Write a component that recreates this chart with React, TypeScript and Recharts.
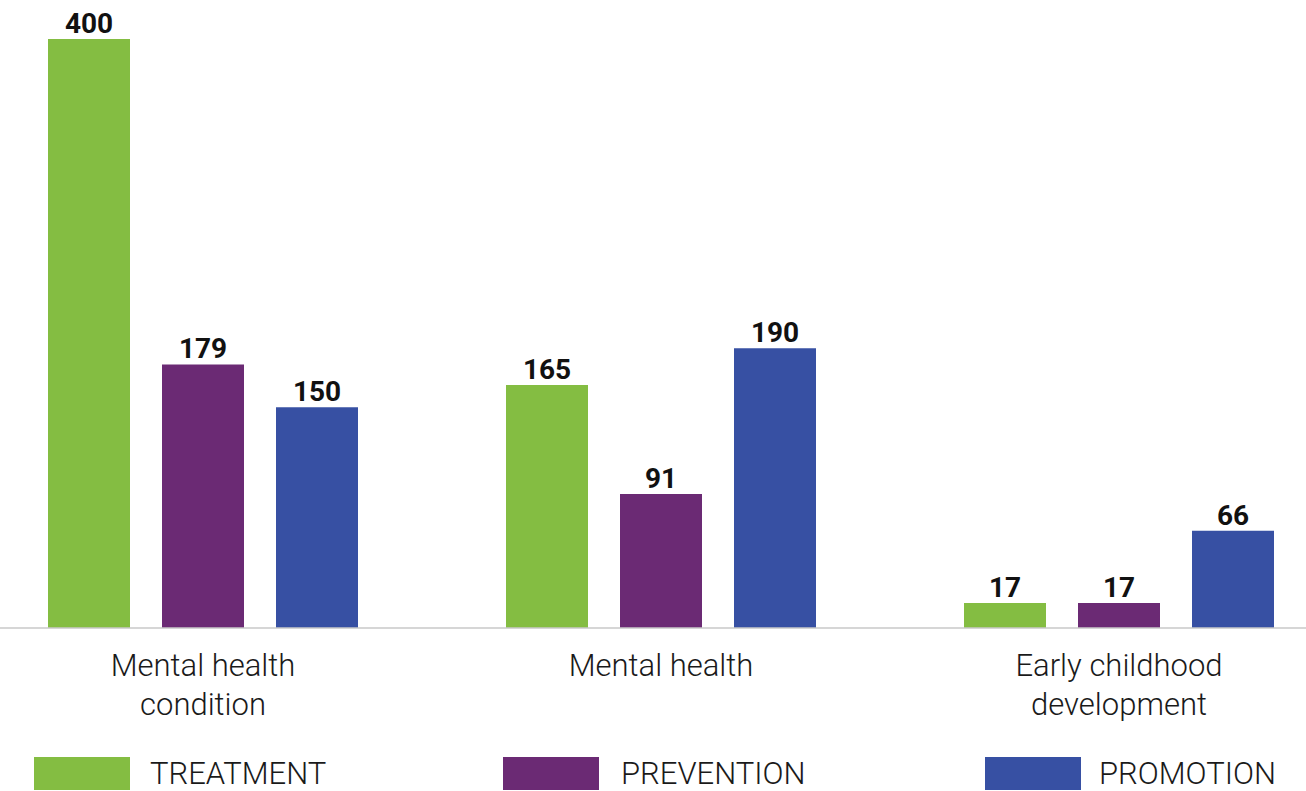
import React from 'react';
import { BarChart, Bar, XAxis, YAxis, LabelList, Legend } from 'recharts';

const categories = ['Mental health condition', 'Mental health', 'Early childhood development'];
const categoryLines = [['Mental health', 'condition'], ['Mental health'], ['Early childhood', 'development']];
const treatment = [400, 165, 17];
const prevention = [179, 91, 17];
const promotion = [150, 190, 66];
const seriesNames = ['TREATMENT', 'PREVENTION', 'PROMOTION'];
const seriesColors = ['#84BD42', '#6B2A74', '#3750A3'];

const data = categories.map((c, i) => ({
  name: c,
  treatment: treatment[i],
  prevention: prevention[i],
  promotion: promotion[i],
}));

const FONT = 'Roboto, "Open Sans", sans-serif';

const CategoryTick = (props: any) => {
  const { x, y, payload, index } = props;
  const lines = categoryLines[index] || [payload.value];
  return (
    <text x={x} y={y} textAnchor="middle" fill="#1a1a1a" fontFamily={FONT} fontWeight={300} fontSize={31}>
      {lines.map((l: string, i: number) => (
        <tspan key={i} x={x} dy={i === 0 ? 48 : 39}>{l}</tspan>
      ))}
    </text>
  );
};

const legendSwatchLeft = [60, 529, 1011];
const legendTextLeft = [176, 647, 1125];

const LegendContent = () => (
  <div style={{ position: 'relative', width: 1374, height: 35 }}>
    {seriesNames.map((n, i) => (
      <React.Fragment key={n}>
        <div style={{ position: 'absolute', left: legendSwatchLeft[i], top: 1, width: 96, height: 33, background: seriesColors[i] }} />
        <div style={{ position: 'absolute', left: legendTextLeft[i], top: 0, height: 35, lineHeight: '36px', fontFamily: FONT, fontWeight: 300, fontSize: 31, color: '#1a1a1a', whiteSpace: 'nowrap' }}>{n}</div>
      </React.Fragment>
    ))}
  </div>
);

const labelStyle = { fontFamily: FONT, fontWeight: 700, fontSize: 28, fill: '#111' };

export default function App() {
  return (
    <div style={{ position: 'fixed', left: 0, top: 0, width: 1306, height: 791, overflow: 'hidden', background: '#fff' }}>
      <div style={{ position: 'absolute', left: -26, top: 0 }}>
        <BarChart
          width={1374}
          height={791}
          data={data}
          margin={{ top: 39, right: 0, left: 0, bottom: 0 }}
          barSize={82}
          barGap={32}
        >
          <XAxis
            dataKey="name"
            axisLine={{ stroke: '#c8c8c8', strokeWidth: 1.5 }}
            tickLine={false}
            tickSize={0}
            tickMargin={0}
            height={128}
            interval={0}
            tick={<CategoryTick />}
          />
          <YAxis hide domain={[0, 400]} />
          <Legend verticalAlign="bottom" height={35} wrapperStyle={{ left: 0, bottom: 0, width: 1374 }} content={<LegendContent />} />
          <Bar dataKey="treatment" name="TREATMENT" fill={seriesColors[0]} isAnimationActive={false}>
            <LabelList dataKey="treatment" position="top" offset={6} style={labelStyle} />
          </Bar>
          <Bar dataKey="prevention" name="PREVENTION" fill={seriesColors[1]} isAnimationActive={false}>
            <LabelList dataKey="prevention" position="top" offset={6} style={labelStyle} />
          </Bar>
          <Bar dataKey="promotion" name="PROMOTION" fill={seriesColors[2]} isAnimationActive={false}>
            <LabelList dataKey="promotion" position="top" offset={6} style={labelStyle} />
          </Bar>
        </BarChart>
      </div>
    </div>
  );
}
